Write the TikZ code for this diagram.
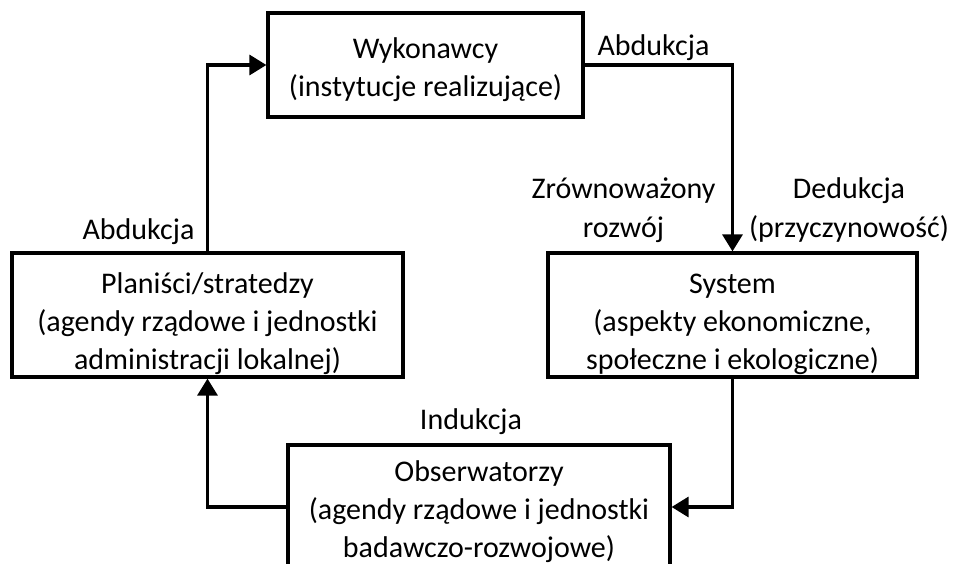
\documentclass[tikz,border=0pt]{standalone}
\usepackage{fontspec}
\setmainfont{Carlito}
\usepackage{tikz}
\usetikzlibrary{
    positioning,
    arrows.meta
}
\newcommand{\boxgap}[1]{\rule{0pt}{#1}}
\tikzset{
  box/.style = {
      draw,
      rectangle,
      line width=2.4pt,
      align=center,
      font=\fontsize{22.5}{28.5}\selectfont,
      minimum height=93pt,
      inner sep=0pt
  },
  lbl/.style = {
      align=center,
      inner sep=0pt
  },
  link/.style = {
      line width=2.4pt,
      -{Triangle[length=12.75pt,width=15pt]}
  }
}

\begin{document}
\begin{tikzpicture}[on grid, font=\fontsize{22.5}{29}\selectfont]
    \useasboundingbox (-319.125pt,48.75pt) rectangle (396.375pt,-374.25pt);
    % Boxes
    \node[box, minimum width=236.25pt, minimum height=78pt] (wyk)
        {\boxgap{23pt}Wykonawcy\\(instytucje realizujące)};
    \node[box, minimum width=276.75pt, below right=187.5pt and 230.25pt of wyk] (sys)
        {\boxgap{28pt}System\\(aspekty ekonomiczne,\\społeczne i ekologiczne)};
    \node[box, minimum width=293.25pt, below left=187.5pt and 163.5pt of wyk] (plan)
        {\boxgap{28pt}Planiści/stratedzy\\(agendy rządowe i jednostki\\administracji lokalnej)};
    \node[box, minimum width=286.5pt, below right=331.5pt and 40.125pt of wyk] (obs)
        {\boxgap{23pt}Obserwatorzy\\(agendy rządowe i jednostki\\badawczo-rozwojowe)};
    % Labels
    \node[lbl, above right=12.75pt and 171pt of wyk] (abdr) {Abdukcja};
    \node[lbl, above left=62.25pt and 51.75pt of plan] (abdl) {Abdukcja};
    \node[lbl, above left=78.75pt and 81.75pt of sys] (zrow) {Zrównoważony\\rozwój};
    \node[lbl, above right=78.75pt and 87.375pt of sys] (ded) {Dedukcja\\(przyczynowość)};
    \node[lbl, above left=63.75pt and 6pt of obs] (ind) {Indukcja};
    % Edges
    \draw[link] (wyk.east) -| (sys.north);
    \draw[link] (sys.south) |- (obs.east);
    \draw[link] (obs.west) -| (plan.south);
    \draw[link] (plan.north) |- (wyk.west);
\end{tikzpicture}
\end{document}
